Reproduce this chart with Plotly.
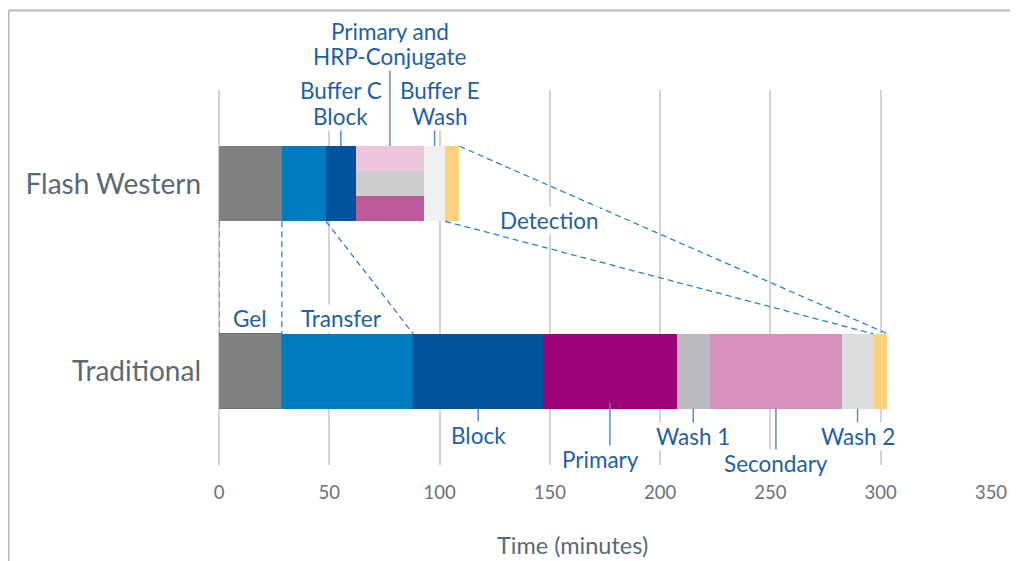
import numpy as np
import plotly.graph_objects as go

# ---------------- data ----------------
categories = ["Traditional", "Flash Western"]
x_ticks = [0, 50, 100, 150, 200, 250, 300, 350]

trad_steps = ["Gel", "Transfer", "Block", "Primary", "Wash 1", "Secondary", "Wash 2", "Detection"]
trad_minutes = [28.5, 59.5, 59, 60.5, 15, 60, 14, 6.5]
trad_colors = ["#808082", "#007bc1", "#00539c", "#9e0078", "#bbbabe", "#d590bb", "#dcdcde", "#fcd27c"]

flash_steps = ["Gel", "Transfer", "Buffer C Block", "Primary and HRP-Conjugate", "Buffer E Wash", "Detection"]
flash_minutes = [28.5, 20, 13.5, 31, 9.5, 6.5]
flash_colors = ["#808082", "#007bc1", "#00539c", "#cdcdcf", "#f0f0f0", "#fcd27c"]
hrp_sub_colors = ["#bd5a9c", "#cdcdcf", "#edc6dd"]  # bottom, middle, top

# ---------------- styling ----------------
FONT = "Lato"
LABEL_BLUE = "#1f5fa6"
LEADER_BLUE = "#4a8fd0"
DASH_BLUE = "#2f80c8"
GREY_TXT = "#5d6873"
BAR_W = 0.4
Y_TRAD, Y_FLASH = 0, 1
LBL_SIZE = 22.5

trad_start = np.concatenate([[0], np.cumsum(trad_minutes)[:-1]])
trad_end = np.cumsum(trad_minutes)
flash_start = np.concatenate([[0], np.cumsum(flash_minutes)[:-1]])
flash_end = np.cumsum(flash_minutes)

fig = go.Figure()

# Traditional bar
for i, (name, dur, col) in enumerate(zip(trad_steps, trad_minutes, trad_colors)):
    fig.add_trace(go.Bar(
        y=[Y_TRAD], x=[dur], base=[trad_start[i]], orientation="h", width=BAR_W,
        marker=dict(color=col, line=dict(width=1 if i == 0 else 0, color="#6f6f72")),
        name=name, showlegend=False, hoverinfo="skip"))

# Flash Western bar
for i, (name, dur, col) in enumerate(zip(flash_steps, flash_minutes, flash_colors)):
    if name == "Primary and HRP-Conjugate":
        sub_w = BAR_W / 3
        for k, sc in enumerate(hrp_sub_colors):
            fig.add_trace(go.Bar(
                y=[Y_FLASH], x=[dur], base=[flash_start[i]], orientation="h",
                width=sub_w, offset=-BAR_W / 2 + k * sub_w,
                marker=dict(color=sc, line=dict(width=0)),
                showlegend=False, hoverinfo="skip"))
    else:
        fig.add_trace(go.Bar(
            y=[Y_FLASH], x=[dur], base=[flash_start[i]], orientation="h", width=BAR_W,
            marker=dict(color=col, line=dict(width=0)),
            name=name, showlegend=False, hoverinfo="skip"))

shapes = []
dash = "6px,4px"
fb = Y_FLASH - BAR_W / 2   # flash bottom
ft = Y_FLASH + BAR_W / 2   # flash top
tt = Y_TRAD + BAR_W / 2    # traditional top
# connecting dashed lines
conn = [
    (flash_start[0], fb, trad_start[0], tt),
    (flash_start[1], fb, trad_start[1], tt),
    (flash_end[1], fb, trad_end[1], tt),
    (flash_end[4], fb, trad_end[6], tt),
    (flash_end[5], ft, trad_end[7], tt),
]
for x0, y0, x1, y1 in conn:
    shapes.append(dict(type="line", xref="x", yref="y", x0=x0, y0=y0, x1=x1, y1=y1,
                       line=dict(color=DASH_BLUE, width=1.3, dash=dash), layer="above"))

def ypx(py):
    # convert a page pixel row into paper coordinates (plot area rows 90..465 on the page)
    return (465 - py) / 375

def xpx(px):
    return (px - 219) / 772

trad_mid = (trad_start + trad_end) / 2
flash_mid = (flash_start + flash_end) / 2

# leader lines: (x, y0_px, y1_px)
leaders = [
    (trad_mid[2], 408.7, 427),
    (trad_mid[3], 403, 450),
    (trad_mid[4], 408.7, 428),
    (trad_mid[5], 408.7, 450),
    (trad_mid[6], 408.7, 428),
    (flash_mid[2], 146, 130),
    (flash_mid[3], 146, 68),
    (flash_mid[4], 146, 130),
]
for x, a, b in leaders:
    shapes.append(dict(type="line", xref="x", yref="paper", x0=x, x1=x, y0=ypx(a), y1=ypx(b),
                       line=dict(color=LEADER_BLUE, width=1.5), layer="above"))

# outer frame (top and left edges)
shapes.append(dict(type="line", xref="paper", yref="paper", x0=xpx(8.5), x1=1.2,
                   y0=ypx(10.5), y1=ypx(10.5), line=dict(color="#b7b7b7", width=2)))
shapes.append(dict(type="line", xref="paper", yref="paper", x0=xpx(8.5), x1=xpx(8.5),
                   y0=ypx(10.5), y1=-0.4, line=dict(color="#b7b7b7", width=2)))

# labels: (text, x, y_px, xshift)
labels = [
    ("Gel", trad_mid[0], 318, 0),
    ("Transfer", trad_mid[1], 318, -6),
    ("Block", trad_mid[2], 435, 0),
    ("Primary", trad_mid[3], 459, -9),
    ("Wash 1", trad_mid[4], 436, 0),
    ("Secondary", trad_mid[5], 463.5, 0),
    ("Wash 2", trad_mid[6], 436, 0),
    ("Buffer C", flash_mid[2], 90.5, 0),
    ("Block", flash_mid[2], 116.5, 0),
    ("Primary and", flash_mid[3], 31.5, 0),
    ("HRP-Conjugate", flash_mid[3], 56, 0),
    ("Buffer E", flash_mid[4], 90.5, 5),
    ("Wash", flash_mid[4], 116.5, 5),
    ("Detection", 150, 220, 0),
]
annotations = []
for text, x, py, xs in labels:
    annotations.append(dict(text=text, x=x, y=ypx(py), xref="x", yref="paper", xshift=xs,
                            showarrow=False, xanchor="center", yanchor="middle",
                            bgcolor="white", borderpad=0,
                            font=dict(family=FONT, size=LBL_SIZE, color=LABEL_BLUE)))
annotations.append(dict(text="Time (minutes)", x=xpx(572.5), y=ypx(545),
                        xref="paper", yref="paper", showarrow=False,
                        xanchor="center", yanchor="middle",
                        font=dict(family=FONT, size=23.5, color=GREY_TXT)))

# page has an 8px body margin: figure is 1010x553 so it fits the 1018x561 window
fig.update_layout(
    width=1010, height=553,
    margin=dict(l=211, r=27, t=82, b=96),
    paper_bgcolor="white", plot_bgcolor="white",
    barmode="overlay", bargap=0,
    shapes=shapes, annotations=annotations,
    showlegend=False,
    font=dict(family=FONT),
)
fig.update_xaxes(
    range=[0, 350], tickvals=x_ticks, ticktext=[str(v) for v in x_ticks],
    showgrid=True, gridcolor="#d4d4d4", gridwidth=1.5,
    zeroline=True, zerolinecolor="#d4d4d4", zerolinewidth=1.5,
    showline=False, ticks="", ticklabelstandoff=14,
    tickfont=dict(family=FONT, size=18.5, color="#6b7178"),
)
fig.update_yaxes(
    range=[-0.5, 1.5], tickvals=[Y_TRAD, Y_FLASH], ticktext=categories,
    showgrid=False, zeroline=False, showline=False, ticks="", ticklabelstandoff=17,
    tickfont=dict(family=FONT, size=28, color=GREY_TXT),
)

fig.write_html("out.html")
